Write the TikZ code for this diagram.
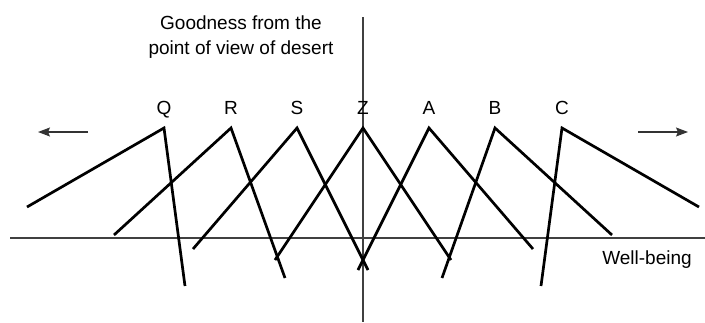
\documentclass[tikz,border=0pt]{standalone}
\usepackage{fontspec}
\setmainfont{Liberation Sans}
\usetikzlibrary{arrows.meta}

\tikzset{
  axisline/.style={draw=black!75, line width=1.2pt},
  peakline/.style={draw=black, line width=2.7pt},
  peaklabel/.style={anchor=base, inner sep=0pt, font=\fontsize{19}{23}\selectfont},
  dirarrow/.style={draw=black!80, line width=1.2pt, -{Stealth[length=12pt,width=9pt,inset=2pt]}}
}

\begin{document}
\begin{tikzpicture}[x=1pt, y=-1pt]
      \useasboundingbox (0,0) rectangle (705,322);

      % Axes
      \coordinate (wleft) at (10,238);
      \coordinate (wright) at (705,238);
      \coordinate (gtop) at (363,17);
      \coordinate (gbottom) at (363,322);
      \draw[axisline] (wleft) -- (wright);
      \draw[axisline] (gtop) -- (gbottom);

      % Axis titles
      \node[
        anchor=base,
        align=center,
        inner sep=0pt,
        font=\fontsize{19}{25}\selectfont
      ] (goodness) at (241,54) {Goodness from the\\point of view of desert};
      \node[peaklabel] (wellbeing) at (647,264) {Well-being};

      % One broken line for each outcome
      \foreach \name/\px/\lx/\ly/\rx/\ry in {
          Q/164/27/207/185/286,
          R/231/114/235/285/278,
          S/297/193/249/368/270,
          Z/363/275/260/451/260,
          A/429/358/270/533/249,
          B/495/442/278/612/235,
          C/562/541/286/699/207} {
        \node[peaklabel] (lbl\name) at (\px,114) {\name};
        \coordinate (top\name) at (\px,128);
        \coordinate (lend\name) at (\lx,\ly);
        \coordinate (rend\name) at (\rx,\ry);
        \draw[peakline] (lend\name) -- (top\name) -- (rend\name);
      }

      % Direction arrows
      \coordinate (lstart) at (88,132);
      \coordinate (lstop) at (38,132);
      \coordinate (rstart) at (638,132);
      \coordinate (rstop) at (688,132);
      \draw[dirarrow] (lstart) -- (lstop);
      \draw[dirarrow] (rstart) -- (rstop);

    \end{tikzpicture}
\end{document}
